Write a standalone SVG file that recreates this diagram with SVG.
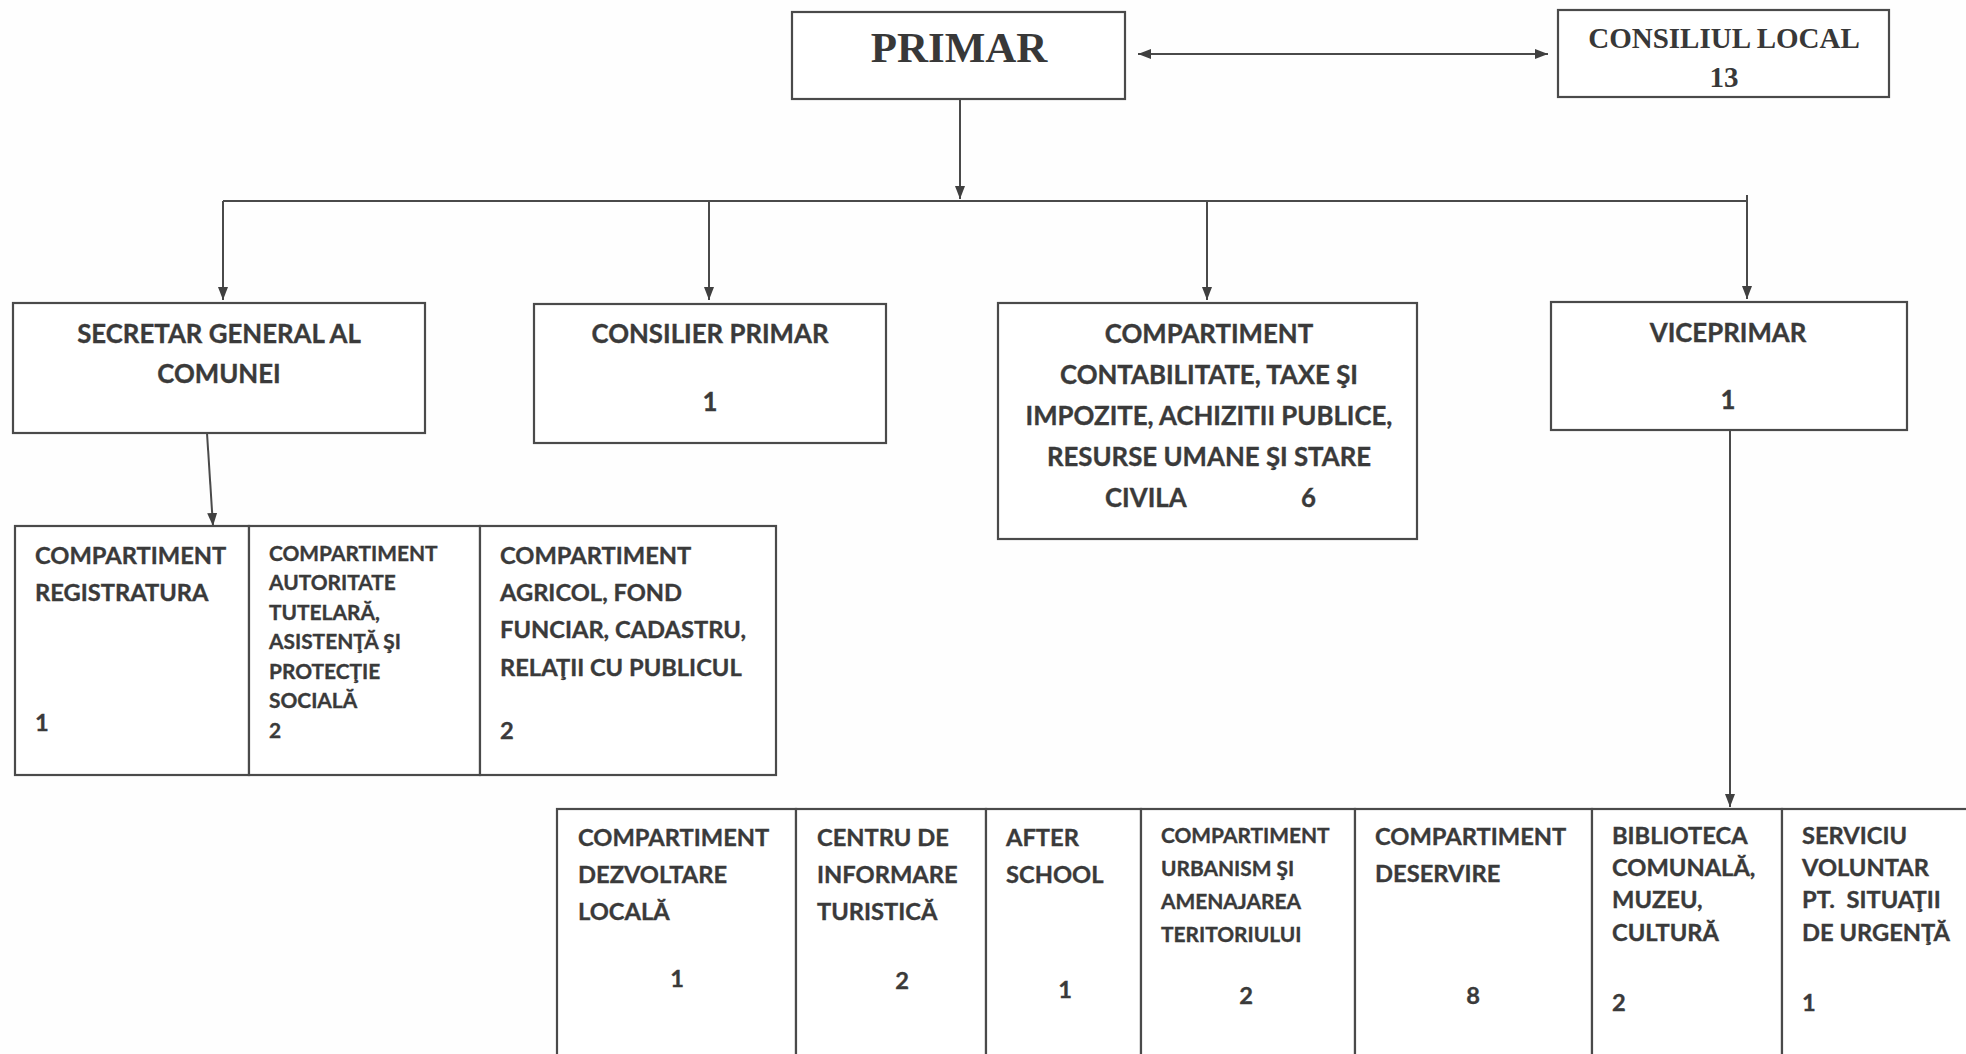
<svg xmlns="http://www.w3.org/2000/svg" width="1966" height="1054" viewBox="0 0 1966 1054">
<defs>
<marker id="ah" markerUnits="userSpaceOnUse" markerWidth="14" markerHeight="12" refX="13" refY="6" orient="auto-start-reverse">
<path d="M0,1 L13,6 L0,11 z" fill="#404040"/>
</marker>
<style>
.box{fill:#fff;stroke:#4a4a4a;stroke-width:2.2}
.ln{fill:none;stroke:#4a4a4a;stroke-width:2}
.ser{font-family:"Liberation Serif","Times New Roman",serif;font-weight:bold;fill:#383838}
.cal{font-family:Lato,"Open Sans",sans-serif;font-weight:bold;fill:#3a3a3a;stroke:#3a3a3a;stroke-width:0.35}
.f28{font-size:25.8px}
.f26{font-size:23.7px}
.f23{font-size:20.9px}
.mid{text-anchor:middle}
</style>
</defs>
<rect width="1966" height="1054" fill="#fefefe"/>

<g id="connectors">
<line class="ln" x1="1138" y1="54" x2="1548" y2="54" marker-start="url(#ah)" marker-end="url(#ah)"/>
<line class="ln" x1="960" y1="99" x2="960" y2="199" marker-end="url(#ah)"/>
<polyline class="ln" points="223,201 1747,201"/>
<line class="ln" x1="1747" y1="195" x2="1747" y2="201"/>
<line class="ln" x1="223" y1="201" x2="223" y2="300" marker-end="url(#ah)"/>
<line class="ln" x1="709" y1="201" x2="709" y2="300" marker-end="url(#ah)"/>
<line class="ln" x1="1207" y1="201" x2="1207" y2="300" marker-end="url(#ah)"/>
<line class="ln" x1="1747" y1="201" x2="1747" y2="299" marker-end="url(#ah)"/>
<line class="ln" x1="207" y1="433" x2="213" y2="526" marker-end="url(#ah)"/>
<line class="ln" x1="1730" y1="430" x2="1730" y2="807" marker-end="url(#ah)"/>
</g>

<g id="primar">
<rect class="box" x="792" y="12" width="333" height="87"/>
<text class="ser mid" x="959" y="62" font-size="43">PRIMAR</text>
</g>

<g id="consiliul-local">
<rect class="box" x="1558" y="10" width="331" height="87"/>
<text class="ser mid" x="1724" y="48" font-size="29">CONSILIUL LOCAL</text>
<text class="ser mid" x="1724" y="87" font-size="29">13</text>
</g>

<g id="secretar">
<rect class="box" x="13" y="303" width="412" height="130"/>
<text class="cal f28 mid" x="219" y="343">SECRETAR GENERAL AL</text>
<text class="cal f28 mid" x="219" y="383">COMUNEI</text>
</g>

<g id="consilier-primar">
<rect class="box" x="534" y="304" width="352" height="139"/>
<text class="cal f28 mid" x="710" y="343">CONSILIER PRIMAR</text>
<text class="cal f28 mid" x="710" y="411">1</text>
</g>

<g id="contabilitate">
<rect class="box" x="998" y="303" width="419" height="236"/>
<text class="cal f28 mid" x="1209" y="343">COMPARTIMENT</text>
<text class="cal f28 mid" x="1209" y="384">CONTABILITATE, TAXE ŞI</text>
<text class="cal f28 mid" x="1209" y="425">IMPOZITE, ACHIZITII PUBLICE,</text>
<text class="cal f28 mid" x="1209" y="466">RESURSE UMANE ŞI STARE</text>
<text class="cal f28" x="1105" y="507">CIVILA</text>
<text class="cal f28" x="1301" y="507">6</text>
</g>

<g id="viceprimar">
<rect class="box" x="1551" y="302" width="356" height="128"/>
<text class="cal f28 mid" x="1728" y="342">VICEPRIMAR</text>
<text class="cal f28 mid" x="1728" y="409">1</text>
</g>

<g id="registratura">
<rect class="box" x="15" y="526" width="234" height="249"/>
<text class="cal f26" x="35" y="564">COMPARTIMENT</text>
<text class="cal f26" x="35" y="601">REGISTRATURA</text>
<text class="cal f26" x="35" y="731">1</text>
</g>

<g id="autoritate-tutelara">
<rect class="box" x="249" y="526" width="231" height="249"/>
<text class="cal f23" x="269" y="561">COMPARTIMENT</text>
<text class="cal f23" x="269" y="590">AUTORITATE</text>
<text class="cal f23" x="269" y="620">TUTELARĂ,</text>
<text class="cal f23" x="269" y="649">ASISTENŢĂ ŞI</text>
<text class="cal f23" x="269" y="679">PROTECŢIE</text>
<text class="cal f23" x="269" y="708">SOCIALĂ</text>
<text class="cal f23" x="269" y="738">2</text>
</g>

<g id="agricol">
<rect class="box" x="480" y="526" width="296" height="249"/>
<text class="cal f26" x="500" y="564">COMPARTIMENT</text>
<text class="cal f26" x="500" y="601">AGRICOL, FOND</text>
<text class="cal f26" x="500" y="638">FUNCIAR, CADASTRU,</text>
<text class="cal f26" x="500" y="676">RELAŢII CU PUBLICUL</text>
<text class="cal f26" x="500" y="739">2</text>
</g>

<g id="dezvoltare-locala">
<rect class="box" x="557" y="809" width="239" height="280"/>
<text class="cal f26" x="578" y="846">COMPARTIMENT</text>
<text class="cal f26" x="578" y="883">DEZVOLTARE</text>
<text class="cal f26" x="578" y="920">LOCALĂ</text>
<text class="cal f26 mid" x="677" y="987">1</text>
</g>

<g id="centru-informare">
<rect class="box" x="796" y="809" width="190" height="280"/>
<text class="cal f26" x="817" y="846">CENTRU DE</text>
<text class="cal f26" x="817" y="883">INFORMARE</text>
<text class="cal f26" x="817" y="920">TURISTICĂ</text>
<text class="cal f26 mid" x="902" y="989">2</text>
</g>

<g id="after-school">
<rect class="box" x="986" y="809" width="155" height="280"/>
<text class="cal f26" x="1006" y="846">AFTER</text>
<text class="cal f26" x="1006" y="883">SCHOOL</text>
<text class="cal f26 mid" x="1065" y="998">1</text>
</g>

<g id="urbanism">
<rect class="box" x="1141" y="809" width="214" height="280"/>
<text class="cal f23" x="1161" y="843">COMPARTIMENT</text>
<text class="cal f23" x="1161" y="876">URBANISM ŞI</text>
<text class="cal f23" x="1161" y="909">AMENAJAREA</text>
<text class="cal f23" x="1161" y="942">TERITORIULUI</text>
<text class="cal f26 mid" x="1246" y="1004">2</text>
</g>

<g id="deservire">
<rect class="box" x="1355" y="809" width="237" height="280"/>
<text class="cal f26" x="1375" y="845">COMPARTIMENT</text>
<text class="cal f26" x="1375" y="882">DESERVIRE</text>
<text class="cal f26 mid" x="1473" y="1004">8</text>
</g>

<g id="biblioteca">
<rect class="box" x="1592" y="809" width="190" height="280"/>
<text class="cal f26" x="1612" y="844">BIBLIOTECA</text>
<text class="cal f26" x="1612" y="876">COMUNALĂ,</text>
<text class="cal f26" x="1612" y="908">MUZEU,</text>
<text class="cal f26" x="1612" y="941">CULTURĂ</text>
<text class="cal f26" x="1612" y="1011">2</text>
</g>

<g id="serviciu-voluntar">
<rect class="box" x="1782" y="809" width="200" height="280"/>
<text class="cal f26" x="1802" y="844">SERVICIU</text>
<text class="cal f26" x="1802" y="876">VOLUNTAR</text>
<text class="cal f26" x="1802" y="908" xml:space="preserve">PT.  SITUAŢII</text>
<text class="cal f26" x="1802" y="941">DE URGENŢĂ</text>
<text class="cal f26" x="1802" y="1011">1</text>
</g>
</svg>
